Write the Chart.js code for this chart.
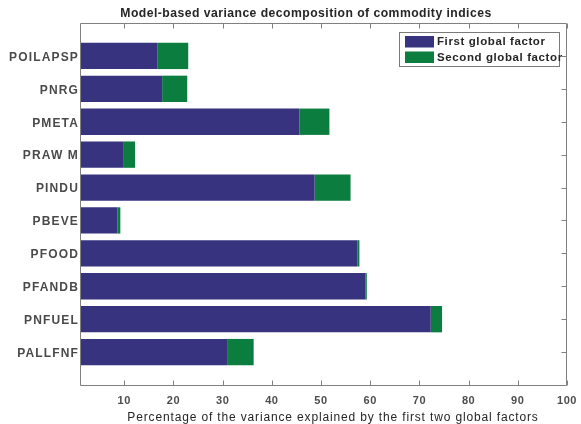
<!DOCTYPE html>
<html>
<head>
<meta charset="utf-8">
<title>Model-based variance decomposition of commodity indices</title>
<script src="https://cdn.jsdelivr.net/npm/chart.js@4.4.1/dist/chart.umd.min.js"></script>
<style>
  html, body { margin: 0; padding: 0; background: #ffffff; }
  canvas { display: block; }
</style>
</head>
<body>
<canvas id="chart" width="581" height="424"></canvas>
<script>
// Commodity indices, listed top to bottom
const categories = ['POILAPSP', 'PNRG', 'PMETA', 'PRAW M', 'PINDU', 'PBEVE', 'PFOOD', 'PFANDB', 'PNFUEL', 'PALLFNF'];
// Share of variance (%) explained by each global factor
const firstFactor  = [16.7, 17.7, 45.6, 9.9, 48.7, 8.6, 57.4, 59.0, 72.3, 30.9];
const secondFactor = [6.3, 5.1, 6.1, 2.3, 7.3, 0.6, 0.4, 0.3, 2.3, 5.4];
const seriesNames  = ['First global factor', 'Second global factor'];
const xTicks = [10, 20, 30, 40, 50, 60, 70, 80, 90, 100];
const chartTitle = 'Model-based variance decomposition of commodity indices';
const xTitle = 'Percentage of the variance explained by the first two global factors';

const FAMILY = '"Liberation Sans", Arial, Helvetica, sans-serif';
const BLUE = '#38337f';
const GREEN = '#0b7d3f';
const AXIS = '#808080';

// Tracked (letter-spaced) lettering: every font assignment on the context
// also picks the matching letter spacing, so measuring and drawing agree.
const tracking = {
  'bold 12': '1.15px',   // category labels
  'bold 11': '0.6px',    // tick labels
  'bold 11.5': '0.6px',  // legend
  'bold 12.2': '0.46px', // title
  'normal 12': '0.85px'  // axis caption
};
function trackingFor(font) {
  const m = /(\S+)\s+([\d.]+)px/.exec(font);
  return (m && tracking[m[1] + ' ' + m[2]]) || '0px';
}
const canvas = document.getElementById('chart');
const ctx2d = canvas.getContext('2d');
const fontDesc = Object.getOwnPropertyDescriptor(CanvasRenderingContext2D.prototype, 'font');
Object.defineProperty(ctx2d, 'font', {
  configurable: true,
  get() { return fontDesc.get.call(this); },
  set(v) {
    fontDesc.set.call(this, v);
    this.letterSpacing = trackingFor(v);
  }
});

// One empty slot above and below the bars, as in a MATLAB barh axis
const yLabels = [''].concat(categories, ['']);
const pad = arr => [null].concat(arr, [null]);

// Box, inward tick marks, in-axes legend, title and caption
const decorations = {
  id: 'decorations',
  afterDraw(chart) {
    const { ctx, chartArea: a, scales: { x, y } } = chart;
    const L = a.left + 0.5, R = a.right - 0.5, T = a.top + 0.5, B = a.bottom + 0.5;
    ctx.save();
    ctx.strokeStyle = AXIS;
    ctx.lineWidth = 1;
    ctx.beginPath();
    ctx.rect(L, T, R - L, B - T);
    xTicks.forEach(v => {
      const px = Math.round(x.getPixelForValue(v)) + 0.5;
      ctx.moveTo(px, B); ctx.lineTo(px, B - 5);
      ctx.moveTo(px, T); ctx.lineTo(px, T + 5);
    });
    categories.forEach((c, i) => {
      const py = Math.round(y.getPixelForValue(i + 1)) + 0.5;
      ctx.moveTo(R, py); ctx.lineTo(R - 5, py);
    });
    ctx.stroke();

    // legend
    const bx = 399.5, by = 32.5, bw = 160, bh = 34;
    ctx.fillStyle = '#ffffff';
    ctx.fillRect(bx, by, bw, bh);
    ctx.strokeStyle = '#7a7a7a';
    ctx.strokeRect(bx, by, bw, bh);
    ctx.font = 'bold 11.5px ' + FAMILY;
    ctx.textAlign = 'left';
    ctx.textBaseline = 'middle';
    chart.data.datasets.forEach((ds, i) => {
      const ry = 36 + i * 15.5;
      ctx.fillStyle = ds.backgroundColor;
      ctx.fillRect(405, ry, 29, 11.5);
      ctx.fillStyle = '#262626';
      ctx.fillText(ds.label, 437, ry + 6);
    });

    // title
    ctx.font = 'bold 12.2px ' + FAMILY;
    ctx.textAlign = 'center';
    ctx.fillStyle = '#262626';
    ctx.fillText(chartTitle, 306, 13.5);

    // x axis caption
    ctx.font = 'normal 12px ' + FAMILY;
    ctx.fillStyle = '#262626';
    ctx.fillText(xTitle, 333, 418);
    ctx.restore();
  }
};

new Chart(canvas, {
  type: 'bar',
  data: {
    labels: yLabels,
    datasets: [
      { label: seriesNames[0], data: pad(firstFactor), backgroundColor: BLUE, borderWidth: 0 },
      { label: seriesNames[1], data: pad(secondFactor), backgroundColor: GREEN, borderWidth: 0 }
    ]
  },
  options: {
    indexAxis: 'y',
    responsive: false,
    animation: false,
    layout: { padding: { top: 23, right: 14, left: 0, bottom: 0 } },
    datasets: { bar: { barPercentage: 0.8, categoryPercentage: 1 } },
    plugins: { legend: { display: false }, title: { display: false }, tooltip: { enabled: false } },
    scales: {
      x: {
        type: 'linear',
        stacked: true,
        min: 1,
        max: 100,
        grid: { display: false, drawTicks: false },
        border: { display: false },
        afterBuildTicks: s => { s.ticks = xTicks.map(v => ({ value: v })); },
        afterFit: s => { s.height = 39; s.paddingLeft = 0; s.paddingRight = 0; },
        ticks: {
          autoSkip: false,
          maxRotation: 0,
          padding: 9,
          color: '#4d4d4d',
          font: { family: FAMILY, size: 11, weight: 'bold' }
        }
      },
      y: {
        type: 'category',
        stacked: true,
        offset: false,
        grid: { display: false, drawTicks: false },
        border: { display: false },
        afterFit: s => { s.width = 80; s.paddingTop = 0; s.paddingBottom = 0; },
        ticks: {
          autoSkip: false,
          padding: 1,
          labelOffset: 1.5,
          color: '#4a4a4a',
          font: { family: FAMILY, size: 12, weight: 'bold' }
        }
      }
    }
  },
  plugins: [decorations]
});
</script>
</body>
</html>
